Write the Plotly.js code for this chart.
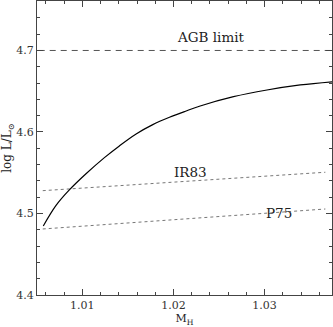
<!DOCTYPE html>
<html>
<head>
<meta charset="utf-8">
<script src="https://cdn.plot.ly/plotly-3.0.1.min.js"></script>
<style>
  html, body { margin: 0; padding: 0; background: #fff; }
  #chart { width: 333px; height: 327px; }
</style>
</head>
<body>
<div id="chart"></div>
<script>
// core mass vs log luminosity
const coreMass = [1.00571, 1.00711, 1.00857, 1.01040, 1.01242, 1.01406, 1.01590,
                  1.01773, 1.01956, 1.02132, 1.02293, 1.02659, 1.03026, 1.03392, 1.03755];
const logL = [4.4847, 4.5099, 4.5289, 4.5487, 4.5685, 4.5829, 4.5975,
              4.6090, 4.6180, 4.6255, 4.6319, 4.6433, 4.6515, 4.6577, 4.6617];

// linear relations (two ends each)
const relMass = [1.00565, 1.03667];
const ir83 = [4.528, 4.5506];
const p75 = [4.481, 4.5055];

// AGB limit
const agbMass = [1.004, 1.039];
const agbL = [4.7, 4.7];

const labels = [
  { text: 'AGB limit', x: 1.02414, y: 4.717 },
  { text: 'IR83', x: 1.02183, y: 4.551 },
  { text: 'P75', x: 1.03161, y: 4.5006 }
];

const serif = '"DejaVu Serif", "Liberation Serif", serif';

const traces = [
  { x: agbMass, y: agbL, mode: 'lines', line: { color: '#555', width: 1, dash: '6px,5px' } },
  { x: relMass, y: ir83, mode: 'lines', line: { color: '#777', width: 1, dash: 'dot' } },
  { x: relMass, y: p75, mode: 'lines', line: { color: '#777', width: 1, dash: 'dot' } },
  { x: coreMass, y: logL, mode: 'lines', line: { color: '#000', width: 1.2, shape: 'spline' } }
];

const axisCommon = {
  showgrid: false,
  zeroline: false,
  showline: true,
  linecolor: '#444',
  linewidth: 1,
  mirror: 'ticks',
  ticks: 'inside',
  ticklen: 6,
  tickcolor: '#444',
  tickfont: { family: serif, size: 11, color: '#333' }
};

const layout = {
  width: 333,
  height: 327,
  margin: { l: 37, r: 1, t: 1, b: 32 },
  paper_bgcolor: '#fff',
  plot_bgcolor: '#fff',
  showlegend: false,
  xaxis: Object.assign({}, axisCommon, {
    range: [1.00502, 1.0374],
    tickvals: [1.01, 1.02, 1.03],
    ticktext: ['1.01', '1.02', '1.03'],
    minor: { dtick: 0.002, tick0: 1.0, ticks: 'inside', ticklen: 3, tickcolor: '#444' },
    title: { text: 'M<sub>H</sub>', font: { family: serif, size: 11, color: '#222' }, standoff: 2 }
  }),
  yaxis: Object.assign({}, axisCommon, {
    range: [4.4, 4.7607],
    tickvals: [4.4, 4.5, 4.6, 4.7],
    ticktext: ['4.4', '4.5', '4.6', '4.7'],
    minor: { dtick: 0.02, tick0: 4.4, ticks: 'inside', ticklen: 3, tickcolor: '#444' },
    title: { text: 'log L/L<sub>⊙</sub>', font: { family: serif, size: 12, color: '#222' }, standoff: 4 }
  }),
  annotations: labels.map(l => ({
    text: l.text, x: l.x, y: l.y, xref: 'x', yref: 'y',
    showarrow: false, font: { family: serif, size: 13.5, color: '#222' }
  }))
};

Plotly.newPlot('chart', traces, layout, { staticPlot: true });
</script>
</body>
</html>
